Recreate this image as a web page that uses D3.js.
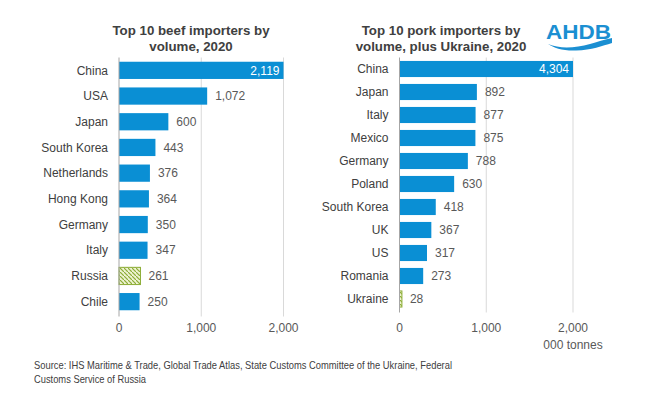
<!DOCTYPE html>
<html>
<head>
<meta charset="utf-8">
<script src="https://cdn.jsdelivr.net/npm/d3@7"></script>
<style>
  body { margin: 0; background: #fff; }
  svg { font-family: "Liberation Sans", Arial, sans-serif; }
</style>
</head>
<body>
<svg id="chart" width="669" height="397"></svg>
<script>
// beef importers, 000 tonnes
const beefCountries = ["China", "USA", "Japan", "South Korea", "Netherlands", "Hong Kong", "Germany", "Italy", "Russia", "Chile"];
const beefValues = [2119, 1072, 600, 443, 376, 364, 350, 347, 261, 250];

// pork importers, 000 tonnes
const porkCountries = ["China", "Japan", "Italy", "Mexico", "Germany", "Poland", "South Korea", "UK", "US", "Romania", "Ukraine"];
const porkValues = [4304, 892, 877, 875, 788, 630, 418, 367, 317, 273, 28];

const axisTicks = [0, 1000, 2000];
const hatched = ["Russia", "Ukraine"];

const blue = "#0a8fd4";
const svg = d3.select("#chart");
const fmt = d3.format(",");

// hatch pattern for the highlighted bars
const pat = svg.append("defs").append("pattern")
    .attr("id", "hatch")
    .attr("patternUnits", "userSpaceOnUse")
    .attr("width", 4).attr("height", 4);
pat.append("rect").attr("width", 4).attr("height", 4).attr("fill", "#eef3d2");
pat.append("path")
    .attr("d", "M-1,-1 l2,2 M0,0 l4,4 M3,3 l2,2")
    .attr("stroke", "#8cad36").attr("stroke-width", 1.2);

function drawPanel(cfg) {
    const g = svg.append("g");
    const x = d3.scaleLinear().domain([0, 2000]).range(cfg.xRange).clamp(true);
    const y = d3.scaleBand().domain(cfg.cats).range(cfg.yRange)
        .paddingInner(cfg.pad).paddingOuter(cfg.pad / 2);

    // gridlines
    g.selectAll(".grid").data(axisTicks.slice(1)).enter().append("line")
        .attr("x1", d => x(d)).attr("x2", d => x(d))
        .attr("y1", cfg.yRange[0]).attr("y2", cfg.yRange[1] + 2)
        .attr("stroke", "#d9d9d9").attr("stroke-width", 1);

    // tick labels
    g.selectAll(".tick").data(axisTicks).enter().append("text")
        .attr("x", d => x(d)).attr("y", 332)
        .attr("text-anchor", "middle")
        .attr("font-size", 12).attr("fill", "#595959")
        .text(d => fmt(d));

    const data = cfg.cats.map((c, i) => ({ c, v: cfg.vals[i] }));

    g.selectAll(".bar").data(data).enter().append("rect")
        .attr("x", x(0))
        .attr("y", d => y(d.c))
        .attr("width", d => x(d.v) - x(0))
        .attr("height", y.bandwidth())
        .attr("fill", d => hatched.includes(d.c) ? "url(#hatch)" : blue)
        .attr("stroke", d => hatched.includes(d.c) ? "#8cad36" : "none")
        .attr("stroke-width", 1);

    // zero axis line
    g.append("line")
        .attr("x1", x(0)).attr("x2", x(0))
        .attr("y1", cfg.yRange[0]).attr("y2", cfg.yRange[1] + 2)
        .attr("stroke", "#a6a6a6");

    // category labels
    g.selectAll(".cat").data(data).enter().append("text")
        .attr("x", x(0) - 11)
        .attr("y", d => y(d.c) + y.bandwidth() / 2)
        .attr("dy", "0.35em")
        .attr("text-anchor", "end")
        .attr("font-size", 12).attr("fill", "#404040")
        .text(d => d.c);

    // value labels: inside for the longest bar, outside for the rest
    g.selectAll(".val").data(data).enter().append("text")
        .attr("x", (d, i) => i === 0 ? x(d.v) - 4 : x(d.v) + 8)
        .attr("y", d => y(d.c) + y.bandwidth() / 2)
        .attr("dy", "0.35em")
        .attr("text-anchor", (d, i) => i === 0 ? "end" : "start")
        .attr("font-size", 12)
        .attr("fill", (d, i) => i === 0 ? "#fff" : "#595959")
        .text(d => fmt(d.v));

    // title
    const t = g.append("text")
        .attr("x", cfg.titleX).attr("text-anchor", "middle")
        .attr("font-size", 13.3).attr("font-weight", "bold").attr("fill", "#404040");
    cfg.title.forEach((line, i) => {
        t.append("tspan").attr("x", cfg.titleX).attr("y", 35 + i * 16).text(line);
    });
    return x;
}

drawPanel({
    cats: beefCountries, vals: beefValues,
    xRange: [119, 283.5], yRange: [57.5, 314.5], pad: 0.33,
    titleX: 191, title: ["Top 10 beef importers by", "volume, 2020"]
});

const xPork = drawPanel({
    cats: porkCountries, vals: porkValues,
    xRange: [399.5, 573], yRange: [57.5, 310.5], pad: 0.3,
    titleX: 441, title: ["Top 10 pork importers by", "volume, plus Ukraine, 2020"]
});

svg.append("text")
    .attr("x", xPork(2000)).attr("y", 349)
    .attr("text-anchor", "middle")
    .attr("font-size", 12).attr("fill", "#595959")
    .text("000 tonnes");

// source note
const src = svg.append("text")
    .attr("font-size", 11.5).attr("fill", "#404040")
    .attr("font-family", "'Liberation Sans Narrow', 'Arial Narrow', 'Liberation Sans', sans-serif");
src.append("tspan").attr("x", 34).attr("y", 369)
    .attr("textLength", 418).attr("lengthAdjust", "spacingAndGlyphs")
    .text("Source: IHS Maritime & Trade, Global Trade Atlas, State Customs Committee of the Ukraine, Federal");
src.append("tspan").attr("x", 34).attr("y", 383)
    .attr("textLength", 112).attr("lengthAdjust", "spacingAndGlyphs")
    .text("Customs Service of Russia");

// AHDB logo
const logo = svg.append("g");
logo.append("text")
    .attr("x", 546).attr("y", 38.5)
    .attr("font-size", 20.5).attr("font-weight", "bold").attr("fill", "#1b8fd2")
    .attr("textLength", 65).attr("lengthAdjust", "spacingAndGlyphs")
    .text("AHDB");
logo.append("path")
    .attr("d", "M548,44 C560,49 575,48 590,44 C600,41 607,39 612,38 L612,43 C602,46 592,50 576,50.5 C563,51 554,48 548,44 Z")
    .attr("fill", "#1b8fd2");
</script>
</body>
</html>
